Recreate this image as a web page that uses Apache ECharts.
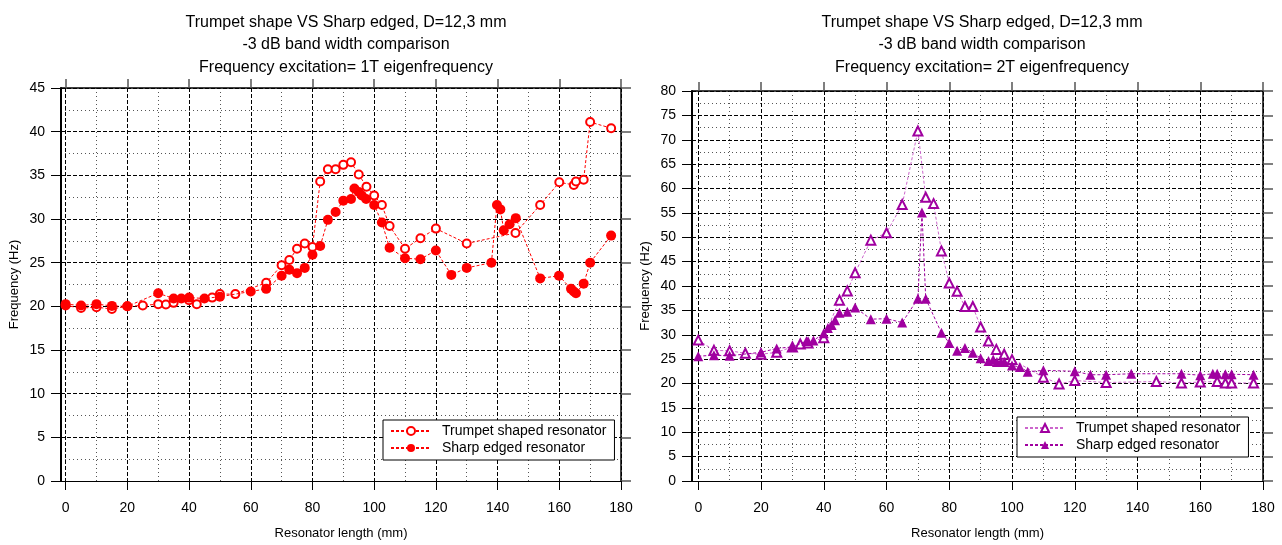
<!DOCTYPE html>
<html style="height:100%;width:100%;">

<head>
  <meta charset="utf-8">
  <title>Trumpet shape VS Sharp edged</title>
  <script src="https://cdn.jsdelivr.net/npm/echarts@6/dist/echarts.min.js"></script>
</head>

<body style="margin:0px;height:100%;width:100%;background:#fff;">
  <div id="main" style="width:1282px;height:545px"></div>
  <script type="text/javascript" charset="utf-8">
    // ---- left panel : 1T eigenfrequency ----
    var trumpet1X = [0, 5, 10, 15, 20, 25, 30, 32.5, 35, 40, 42.5, 47.5, 50, 55, 65, 70, 72.5, 75, 77.5, 80, 82.5, 85, 87.5, 90, 92.5, 95, 97.5, 100, 102.5, 105, 110, 115, 120, 130, 145.8, 153.8, 160, 164.7, 165.4, 167.9, 170, 176.8];
    var trumpet1Y = [20.1, 19.8, 19.9, 19.7, 20.0, 20.1, 20.25, 20.2, 20.4, 20.7, 20.25, 21.0, 21.4, 21.4, 22.7, 24.7, 25.3, 26.6, 27.2, 26.8, 34.3, 35.7, 35.7, 36.2, 36.5, 35.1, 33.7, 32.7, 31.6, 29.2, 26.6, 27.8, 28.9, 27.2, 28.4, 31.6, 34.2, 33.9, 34.3, 34.5, 41.1, 40.4];
    var sharp1X = [0, 5, 10, 15, 20, 30, 35, 37.5, 40, 45, 50, 60, 65, 70, 72.5, 75, 77.5, 80, 82.5, 85, 87.5, 90, 92.5, 93.6, 95, 96, 97.4, 100, 102.5, 105, 110, 115, 120, 125, 130, 138, 139.8, 140.9, 142, 143.9, 145.9, 153.8, 159.9, 163.8, 164.7, 165.4, 167.9, 170, 176.8];
    var sharp1Y = [20.25, 20.1, 20.25, 20.05, 20.0, 21.5, 20.9, 20.9, 21.0, 20.9, 21.1, 21.7, 22.0, 23.5, 24.2, 23.8, 24.4, 25.9, 26.9, 29.9, 30.8, 32.1, 32.3, 33.5, 33.1, 32.7, 32.3, 31.6, 29.6, 26.7, 25.5, 25.4, 26.4, 23.6, 24.4, 25.0, 31.6, 31.1, 28.7, 29.4, 30.1, 23.2, 23.5, 22.0, 21.7, 21.5, 22.6, 25.0, 28.1];

    // ---- right panel : 2T eigenfrequency ----
    var trumpet2X = [0, 5, 10, 15, 20, 25, 30, 32.5, 35, 40, 45, 47.5, 50, 55, 60, 65, 70, 72.5, 75, 77.5, 80, 82.5, 85, 87.5, 90, 92.5, 95, 97.5, 100, 110, 115, 120, 130, 146, 154, 160, 165.4, 168, 170, 177];
    var trumpet2Y = [28.9, 26.8, 26.7, 26.2, 26.0, 26.4, 27.5, 28.1, 28.3, 29.4, 37.1, 39.0, 42.7, 49.4, 50.9, 56.7, 71.8, 58.2, 56.9, 47.2, 40.6, 38.9, 35.8, 35.8, 31.6, 28.7, 27.0, 26.0, 24.9, 21.3, 19.9, 20.6, 20.2, 20.4, 20.1, 20.3, 20.4, 20.1, 20.1, 20.1];
    var sharp2X = [0, 5, 10, 20, 25, 30, 34.5, 36.7, 40, 41.3, 42.5, 43.6, 45, 47.5, 50, 55, 60, 65, 70, 71.3, 72.5, 77.5, 80, 82.5, 85, 87.5, 90, 92.5, 94, 95.2, 96.5, 97.6, 100, 102.5, 105, 110, 120, 125, 130, 138, 154, 160, 164, 165.4, 168, 170, 177];
    var sharp2Y = [25.6, 25.8, 25.7, 26.4, 27.2, 27.5, 28.7, 28.8, 30.3, 31.4, 32.0, 33.0, 34.5, 34.7, 35.6, 33.2, 33.3, 32.5, 37.4, 55.1, 37.4, 30.4, 28.3, 26.7, 27.3, 26.3, 25.2, 24.6, 24.9, 24.4, 24.4, 24.4, 23.7, 23.4, 22.4, 22.7, 22.5, 21.8, 21.8, 22.0, 22.0, 21.7, 22.0, 22.0, 21.9, 21.9, 21.8];

    // ticks / labels
    var xMajor = [0, 20, 40, 60, 80, 100, 120, 140, 160, 180];
    var xMinor = [10, 30, 50, 70, 90, 110, 130, 150, 170];
    var seriesNames = ['Trumpet shaped resonator', 'Sharp edged resonator'];
    var titleLines = ['Trumpet shape VS Sharp edged, D=12,3 mm', '-3 dB band width comparison'];
    var excitation = ['Frequency excitation= 1T eigenfrequency', 'Frequency excitation= 2T eigenfrequency'];

    var FONT = 'Liberation Sans, Arial, sans-serif';
    var dashed = [4, 2];
    var dotted = [1, 3];

    function pairs(xs, ys) {
      return xs.map(function (x, i) { return [x, ys[i]]; });
    }

    // three x axes per grid: bottom (labels), top (frame + major grid), hidden (minor grid)
    function xAxes(g, xmin) {
      return [{
        type: 'value', gridIndex: g, position: 'bottom', min: xmin, max: 180,
        axisLine: { show: true, onZero: false, lineStyle: { color: '#000', width: 1 } },
        axisTick: { show: true, inside: false, length: 9, customValues: xMajor, lineStyle: { color: '#000' } },
        axisLabel: { customValues: xMajor, margin: 20, color: '#000', fontSize: 14, fontFamily: FONT },
        splitLine: { show: false },
        name: 'Resonator length (mm)', nameLocation: 'middle', nameGap: 46,
        nameTextStyle: { color: '#000', fontSize: 13, fontFamily: FONT }
      }, {
        type: 'value', gridIndex: g, position: 'top', min: xmin, max: 180,
        axisLine: { show: true, onZero: false, lineStyle: { color: '#000', width: 1.5 } },
        axisTick: { show: true, inside: false, length: 9, customValues: xMajor, lineStyle: { color: '#555', width: 1.5 } },
        axisLabel: { show: false },
        splitLine: { show: true, lineStyle: { color: '#000', type: dashed, width: 1 } }
      }, {
        type: 'value', gridIndex: g, position: 'top', min: xmin, max: 180,
        axisLine: { show: false },
        axisTick: { show: false, customValues: xMinor },
        axisLabel: { show: false },
        splitLine: { show: true, lineStyle: { color: '#555', type: dotted, width: 1 } }
      }];
    }

    function yAxes(g, ymax) {
      return [{
        type: 'value', gridIndex: g, position: 'left', min: 0, max: ymax, interval: 5,
        axisLine: { show: true, onZero: false, lineStyle: { color: '#000', width: 2 } },
        axisTick: { show: true, inside: false, length: 10, lineStyle: { color: '#000' } },
        axisLabel: { margin: 16, color: '#000', fontSize: 14, fontFamily: FONT },
        splitLine: { show: true, lineStyle: { color: '#000', type: dashed, width: 1 } },
        minorTick: { show: false, splitNumber: 2 },
        minorSplitLine: { show: true, lineStyle: { color: '#555', type: dotted, width: 1 } },
        name: 'Frequency (Hz)', nameLocation: 'middle', nameGap: 40,
        nameTextStyle: { color: '#000', fontSize: 13, fontFamily: FONT }
      }, {
        type: 'value', gridIndex: g, position: 'right', min: 0, max: ymax, interval: 5,
        axisLine: { show: true, onZero: false, lineStyle: { color: '#000', width: 1.5 } },
        axisTick: { show: true, inside: false, length: 10, lineStyle: { color: '#555', width: 1.5 } },
        axisLabel: { show: false },
        splitLine: { show: false }
      }];
    }

    // right panel series carry an invisible suffix so both legends stay separate
    function legend(g, left, top) {
      return {
        show: true, orient: 'vertical', left: left, top: top,
        data: seriesNames.map(function (n) {
          return { name: g === 0 ? n : n + '\u200b' };
        }),
        backgroundColor: '#fff', borderColor: '#000', borderWidth: 1, borderRadius: 0,
        padding: [4, 8, 5, 7], itemGap: 3, itemWidth: 40, itemHeight: 10,
        textStyle: { color: '#000', fontSize: 14, fontFamily: FONT, padding: [0, 0, 0, 6] },
        selectedMode: false
      };
    }

    var myChart = echarts.init(document.getElementById('main'), null, { renderer: 'canvas' });

    var red = '#ff0000';
    var purple = '#a000a0';
    var lightPurple = '#cc66cc';

    var option = {
      backgroundColor: '#fff',
      animation: false,
      title: [{
        text: titleLines.concat(excitation[0]).join('\n'),
        left: 341, top: 6, textAlign: 'center',
        textStyle: { color: '#000', fontSize: 16, fontWeight: 'normal', fontFamily: FONT, lineHeight: 22.5 }
      }, {
        text: titleLines.concat(excitation[1]).join('\n'),
        left: 977, top: 6, textAlign: 'center',
        textStyle: { color: '#000', fontSize: 16, fontWeight: 'normal', fontFamily: FONT, lineHeight: 22.5 }
      }],
      legend: [legend(0, 383, 420), legend(1, 1017, 417)],
      grid: [
        { left: 61, right: 661, top: 88, bottom: 63, containLabel: false },
        { left: 692, right: 19, top: 91, bottom: 59, containLabel: false }
      ],
      xAxis: xAxes(0, -1.5).concat(xAxes(1, -2)),
      yAxis: yAxes(0, 45).concat(yAxes(1, 80)),
      series: [{
        name: seriesNames[0], type: 'line', xAxisIndex: 0, yAxisIndex: 0,
        data: pairs(trumpet1X, trumpet1Y),
        symbol: 'emptyCircle', symbolSize: 8,
        itemStyle: { color: red, borderWidth: 1 },
        lineStyle: { color: red, width: 1, type: [3, 2] }, z: 3
      }, {
        name: seriesNames[1], type: 'line', xAxisIndex: 0, yAxisIndex: 0,
        data: pairs(sharp1X, sharp1Y),
        symbol: 'circle', symbolSize: 10,
        itemStyle: { color: red },
        lineStyle: { color: red, width: 1, type: [3, 2] }, z: 4
      }, {
        name: seriesNames[0] + '\u200b', type: 'line', xAxisIndex: 3, yAxisIndex: 2,
        data: pairs(trumpet2X, trumpet2Y),
        symbol: 'emptyTriangle', symbolSize: 9,
        itemStyle: { color: purple, borderWidth: 1 },
        lineStyle: { color: lightPurple, width: 1, type: [3, 2] }, z: 3
      }, {
        name: seriesNames[1] + '\u200b', type: 'line', xAxisIndex: 3, yAxisIndex: 2,
        data: pairs(sharp2X, sharp2Y),
        symbol: 'triangle', symbolSize: 10,
        itemStyle: { color: purple },
        lineStyle: { color: purple, width: 1, type: [3, 2] }, z: 4
      }]
    };

    myChart.setOption(option, true);
  </script>
</body>

</html>
